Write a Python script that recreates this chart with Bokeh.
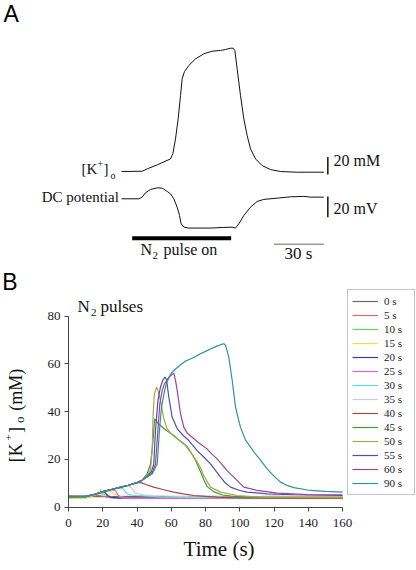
from math import pi
from bokeh.plotting import figure
from bokeh.models import Range1d, FixedTicker, Legend, LegendItem, Label
from bokeh.embed import file_html
from bokeh.resources import INLINE

# ---------------- Panel A data (time in s, K+ in mM, DC in mV) ----------------
a_time_k = [0, 12.4, 15.4, 21.4, 29.4, 30.8, 32.4, 34.0, 35.4, 36.4, 37.8, 40.4, 44.4, 49.4, 54.4,
            59.4, 62.4, 65.4, 67.0, 68.0, 69.4, 71.4, 73.4, 75.4, 77.4, 80.4, 84.4, 89.4, 95.4, 105.4, 121.4]
a_k = [3.8, 4.1, 6.8, 11.4, 18.2, 24.0, 41.1, 64.0, 90.6, 109.7, 118.1, 124.9, 132.5, 138.3, 141.3,
       142.1, 143.2, 144.7, 144.7, 142.1, 121.1, 90.6, 64.0, 44.9, 29.7, 18.2, 10.6, 6.0, 3.8, 3.0, 3.0]
a_time_dc = [0, 10.4, 12.4, 14.4, 17.4, 21.4, 24.4, 27.4, 29.4, 31.4, 33.4, 34.8, 35.8, 37.4, 40.4,
             53.4, 61.4, 66.4, 68.4, 70.4, 73.4, 77.4, 81.4, 85.4, 93.4, 101.4, 109.4, 113.4, 121.4]
a_dc = [0, 0, 1.6, 5.8, 9.0, 10.6, 10.3, 7.1, 4.8, 0, -8.1, -16.1, -24.2, -27.4, -28.3,
        -28.3, -27.7, -27.4, -28.3, -24.2, -16.1, -8.1, -2.6, -0.6, 0.6, 1.9, 2.3, 1.6, 1.6]
pulse_on = [6.4, 65.8]          # N2 pulse (s)
scale_time = [91.4, 121.4]      # 30 s bar
scale_k = [0.4, 20.4]           # 20 mM bar
scale_dc = [-17.8, 2.2]         # 20 mV bar

# ---------------- Panel B data ----------------
x_ticks = [0, 20, 40, 60, 80, 100, 120, 140, 160]
y_ticks = [0, 20, 40, 60, 80]
labels = ["0 s", "5 s", "10 s", "15 s", "20 s", "25 s", "30 s", "35 s", "40 s",
          "45 s", "50 s", "55 s", "60 s", "90 s"]
colors = ["#6b6b6b", "#e06868", "#5ed85e", "#e2e24e", "#3c3ca0", "#e060e0", "#58dede",
          "#cccccc", "#a04848", "#3d9a3d", "#a8a84a", "#5050a8", "#a040a0", "#2e9494"]

t_0 = [0, 20, 40, 60, 80, 100, 120, 140, 160]
k_0 = [4.5, 4.4, 4.5, 4.4, 4.5, 4.4, 4.5, 4.4, 4.5]
t_5 = [0, 10, 14, 17, 20, 24, 30, 60, 100, 140, 160]
k_5 = [4.0, 4.0, 4.6, 5.0, 4.6, 4.0, 3.8, 3.8, 3.8, 3.8, 3.8]
t_10 = [0, 10, 15, 19, 22, 26, 32, 60, 100, 160]
k_10 = [3.7, 3.8, 5.0, 5.8, 5.0, 4.0, 3.7, 3.7, 3.7, 3.7]
t_15 = [0, 10, 15, 20, 24, 27, 31, 36, 60, 100, 160]
k_15 = [3.6, 3.7, 5.1, 6.3, 6.8, 5.5, 4.2, 3.7, 3.6, 3.6, 3.6]
t_20 = [0, 10, 15, 20, 21.5, 23, 25, 30, 40, 80, 160]
k_20 = [4.6, 4.6, 5.3, 6.4, 6.0, 4.8, 4.1, 3.8, 3.8, 3.8, 3.8]
t_25 = [0, 10, 15, 20, 25, 27.4, 29, 31.3, 35, 50, 100, 160]
k_25 = [4.2, 4.3, 5.2, 6.4, 7.2, 7.1, 5.0, 3.9, 3.7, 3.7, 3.7, 3.7]
t_30 = [0, 10, 15, 18.5, 18.7, 19, 25, 30, 32, 34.3, 37, 40, 54, 80, 110, 133]
k_30 = [4.3, 4.4, 5.2, 6.0, 7.6, 6.2, 7.3, 8.1, 7.6, 5.6, 5.1, 4.9, 4.2, 4.0, 4.0, 4.0]
t_35 = [0, 10, 15, 20, 25, 30, 35, 37, 39, 44, 50, 70, 100, 160]
k_35 = [4.4, 4.5, 5.3, 6.5, 7.4, 8.3, 9.0, 8.0, 5.9, 5.2, 4.8, 4.4, 4.3, 4.3]
t_40 = [0, 10, 15, 20, 25, 30, 35, 40, 42, 45, 49.8, 55, 61.5, 67, 73.2, 80, 86.8, 95, 104.3, 130, 160]
k_40 = [4.3, 4.4, 5.3, 6.5, 7.4, 8.3, 9.2, 10.2, 10.4, 9.5, 8.4, 7.4, 6.3, 5.6, 4.9, 4.5, 4.2, 4.0, 3.9, 3.8, 3.8]
t_45 = [0, 10, 15, 20, 25, 30, 35, 40, 43, 45.9, 47.9, 49, 49.8, 50.3, 50.8, 52.5, 57, 61.5, 65, 69.3,
        73, 75.1, 77.1, 79, 81, 84.9, 90, 95, 104.3, 120, 160]
k_45 = [4.3, 4.4, 5.3, 6.5, 7.4, 8.3, 9.2, 10.3, 11.3, 13.9, 18.1, 25.1, 32.1, 37.0, 36.4, 34.9, 32.2,
        30.0, 27.8, 25.4, 21.2, 18.2, 14.8, 11.5, 8.6, 6.4, 5.1, 4.6, 4.2, 4.0, 4.0]
t_50 = [0, 10, 15, 20, 25, 30, 35, 40, 43, 45.9, 47.9, 48.9, 49.4, 50.2, 51.4, 52.2, 53.7, 55.7, 57.5,
        59.6, 63, 67.3, 71.2, 75.1, 77.1, 79, 82.9, 88.8, 98.5, 112, 160]
k_50 = [4.3, 4.4, 5.3, 6.5, 7.4, 8.3, 9.2, 10.3, 11.3, 13.5, 15.5, 25.0, 39.0, 47.4, 50.2, 49.0, 44.6,
        37.0, 33.0, 31.0, 28.8, 26.8, 23.0, 19.0, 16.5, 13.2, 8.4, 6.3, 4.9, 4.2, 4.0]
t_55 = [0, 10, 15, 20, 25, 30, 35, 40, 43, 46, 48.5, 49.8, 50.8, 52.2, 53.7, 55, 56.3, 57.2, 58.6, 60.5,
        63.5, 67, 70.3, 75.1, 79, 82.9, 86.8, 88.8, 91.5, 94.6, 100, 104.3, 116, 131.6, 160]
k_55 = [4.4, 4.5, 5.3, 6.5, 7.4, 8.3, 9.2, 10.3, 11.3, 13.0, 15.0, 18.1, 32.1, 44.6, 50.2, 53.0, 54.4,
        53.5, 46.0, 37.7, 32.8, 30.0, 27.9, 23.7, 21.0, 18.1, 14.5, 12.6, 10.2, 8.4, 7.0, 6.3, 5.6, 5.2, 4.9]
t_60 = [0, 10, 15, 20, 25, 30, 35, 40, 43, 46, 49, 50.8, 52.2, 53.3, 54.7, 56, 58.6, 61.5, 62.5, 63.5,
        65.4, 67.3, 69.5, 72.2, 76, 80.9, 84, 86.8, 90.7, 92.6, 96.5, 102.4, 110.2, 121.9, 139.4, 160]
k_60 = [4.4, 4.5, 5.3, 6.5, 7.4, 8.3, 9.2, 10.3, 11.3, 12.8, 14.5, 18.1, 32.1, 43.2, 48.8, 51.5, 54.4,
        56.1, 53.0, 48.8, 39.1, 33.5, 30.8, 29.3, 27.0, 24.4, 22.0, 20.2, 17.0, 15.3, 12.6, 8.4, 7.0, 5.9, 5.3, 5.2]
t_90 = [0, 10, 15, 20, 25, 30, 35, 40, 43, 46, 49, 51.8, 53.1, 54.3, 56.1, 57.5, 58.6, 60, 61.5, 65.4,
        68, 71.2, 74, 77.1, 80, 82.9, 86, 88.8, 90.7, 91.7, 93.6, 95.6, 97.5, 99.5, 100.4, 103.3, 108.2,
        112, 116, 120, 123.8, 128, 131.6, 141.3, 150, 160]
k_90 = [4.4, 4.5, 5.3, 6.5, 7.4, 8.3, 9.2, 10.3, 11.3, 12.6, 14.0, 18.1, 32.1, 41.8, 48.8, 52.5, 54.0,
        56.0, 57.2, 59.6, 61.0, 62.0, 63.0, 64.2, 65.2, 66.2, 67.2, 68.0, 68.4, 67.7, 62.8, 53.0, 42.0,
        36.0, 33.5, 28.2, 23.2, 19.8, 16.0, 13.0, 10.5, 9.0, 8.2, 7.0, 6.6, 6.3]

series_t = [t_0, t_5, t_10, t_15, t_20, t_25, t_30, t_35, t_40, t_45, t_50, t_55, t_60, t_90]
series_k = [k_0, k_5, k_10, k_15, k_20, k_25, k_30, k_35, k_40, k_45, k_50, k_55, k_60, k_90]

SERIF = "Liberation Serif"
SANS = "Liberation Sans"


def lab(p, x, y, text, size, font=SERIF, align="left", angle=0, color="#111111"):
    # the renderer draws "alphabetic" text about 0.38 em low: lift it back onto its baseline
    s = round(0.38 * size, 1)
    off = dict(y_offset=s) if angle == 0 else dict(x_offset=-s)
    p.add_layout(Label(x=x, y=y, text=text, text_font=font, text_font_size=f"{size}px",
                       text_align=align, text_baseline="alphabetic", angle=angle,
                       text_color=color, **off))


# ---------------- Panel A ----------------
pA = figure(width=416, height=270, output_backend="svg", toolbar_location=None,
            x_range=Range1d(-72.6, 177.0), y_range=Range1d(-109.3, 199.2),
            min_border=0, x_axis_location=None, y_axis_location=None)
pA.extra_y_ranges = {"dc": Range1d(-69.3, 191.6)}
pA.outline_line_color = None
pA.grid.visible = False

pA.line(a_time_k, a_k, color="#111111", line_width=1)
pA.line(a_time_dc, a_dc, color="#111111", line_width=1, y_range_name="dc")
pA.line([123.8, 123.8], scale_k, color="#111111", line_width=1.5)
pA.line([123.8, 123.8], scale_dc, color="#111111", line_width=1.5, y_range_name="dc")
pA.line(pulse_on, [-72.4, -72.4], color="black", line_width=4)
pA.line(scale_time, [-79.3, -79.3], color="#9a9a9a", line_width=1.5)

lab(pA, -70.8, 174.1, "A", 23, font=SANS, color="black")
lab(pA, -24.0, 0.4, "[K", 15)
lab(pA, -14.4, 8.9, "+", 10)
lab(pA, -10.8, 0.4, "]", 15)
lab(pA, -6.6, -4.8, "o", 10)
lab(pA, -1.6, -32.2, "DC potential", 15, align="right")
lab(pA, 127.2, 9.9, "20 mM", 16)
lab(pA, 127.2, -45.9, "20 mV", 16)
lab(pA, 11.4, -92.8, "N", 16)
lab(pA, 18.6, -96.8, "2", 11)
lab(pA, 25.2, -92.8, "pulse on", 16)
lab(pA, 97.8, -96.8, "30 s", 17)

# ---------------- Panel B ----------------
pB = figure(width=416, height=298, output_backend="svg", toolbar_location=None,
            x_range=Range1d(-39.71, 203.21), y_range=Range1d(-25.65, 99.04), min_border=0)
pB.outline_line_color = None
pB.grid.visible = False
pB.xaxis.ticker = FixedTicker(ticks=x_ticks)
pB.yaxis.ticker = FixedTicker(ticks=y_ticks)
pB.xaxis.fixed_location = 0
pB.yaxis.fixed_location = 0
pB.xaxis.bounds = (0, 160)
pB.yaxis.bounds = (0, 80)
for ax in (pB.xaxis, pB.yaxis):
    ax.major_tick_out = 4
    ax.major_tick_in = 0
    ax.minor_tick_out = 0
    ax.minor_tick_in = 0
    ax.axis_line_color = "#444444"
    ax.major_tick_line_color = "#444444"
    ax.major_label_text_font = SERIF
    ax.major_label_text_font_size = "13px"
    ax.major_label_text_color = "#222222"
pB.xaxis.major_label_standoff = 8
pB.yaxis.major_label_standoff = 4

renderers = []
for t, k, c in zip(series_t, series_k, colors):
    renderers.append(pB.line(t, k, color=c, line_width=1.2))

legend = Legend(items=[LegendItem(label=l, renderers=[r]) for l, r in zip(labels, renderers)],
                location=(347, 73), padding=4, spacing=0, margin=0,
                label_height=14, glyph_height=14, glyph_width=26, label_standoff=6, label_width=26,
                label_text_font=SERIF, label_text_font_size="11px", label_text_color="#222222",
                border_line_color="#8c8c8c", border_line_width=1.2,
                background_fill_color="white", background_fill_alpha=1.0)
pB.add_layout(legend)

lab(pB, -38.7, 90.6, "B", 23, font=SANS, color="black")
lab(pB, 5.3, 81.2, "N", 17)
lab(pB, 13.1, 79.8, "2", 11)
lab(pB, 18.7, 81.2, "pulses", 17)
lab(pB, 67.2, -21.0, "Time (s)", 21)
# rotated y-axis title: [K+]o (mM)
lab(pB, -26.9, 18.8, "[K", 18, angle=pi / 2)
lab(pB, -32.3, 27.9, "+", 11, angle=pi / 2)
lab(pB, -26.9, 31.0, "]", 18, angle=pi / 2)
lab(pB, -25.7, 35.2, "o", 13, angle=pi / 2)
lab(pB, -26.9, 40.4, "(mM)", 18, angle=pi / 2)

open("out.html", "w").write(file_html([pA, pB], INLINE))
